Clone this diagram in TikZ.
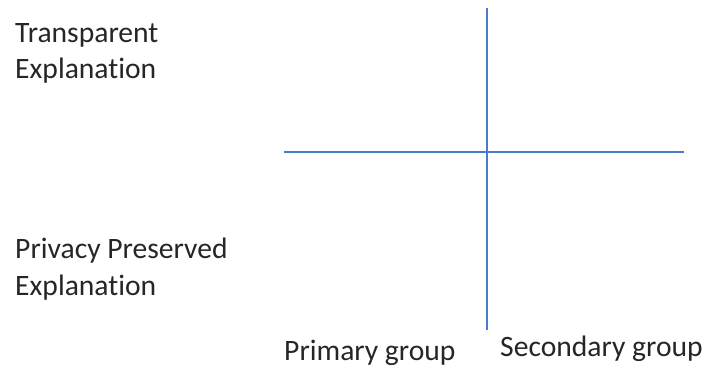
\documentclass[tikz,border=0pt]{standalone}
\usepackage{fontspec}
\setmainfont[Ligatures={NoCommon,NoContextual}]{Carlito}
\definecolor{axisblue}{HTML}{4A7BCC}
\begin{document}
\begin{tikzpicture}[x=1pt,y=-1pt,
  lab/.style={anchor=base west,inner sep=0pt,font=\fontsize{29.6}{36}\selectfont,text=black!85},
  axis/.style={draw=axisblue,line width=1.8pt}]
\useasboundingbox (0,0) rectangle (707,367);
\node[lab] (t1) at (15,42) {Transparent};
\node[lab] (t2) at (15,78) {Explanation};
\node[lab] (p1) at (15,258) {Privacy Preserved};
\node[lab] (p2) at (15,295) {Explanation};
\node[lab] (pg) at (284,360) {Primary group};
\node[lab] (sg) at (500,356) {Secondary group};
\coordinate (hl) at (284,152);
\coordinate (hr) at (684,152);
\coordinate (vt) at (487,8);
\coordinate (vb) at (487,330);
\draw[axis] (hl) -- (hr);
\draw[axis] (vt) -- (vb);
\end{tikzpicture}
\end{document}
